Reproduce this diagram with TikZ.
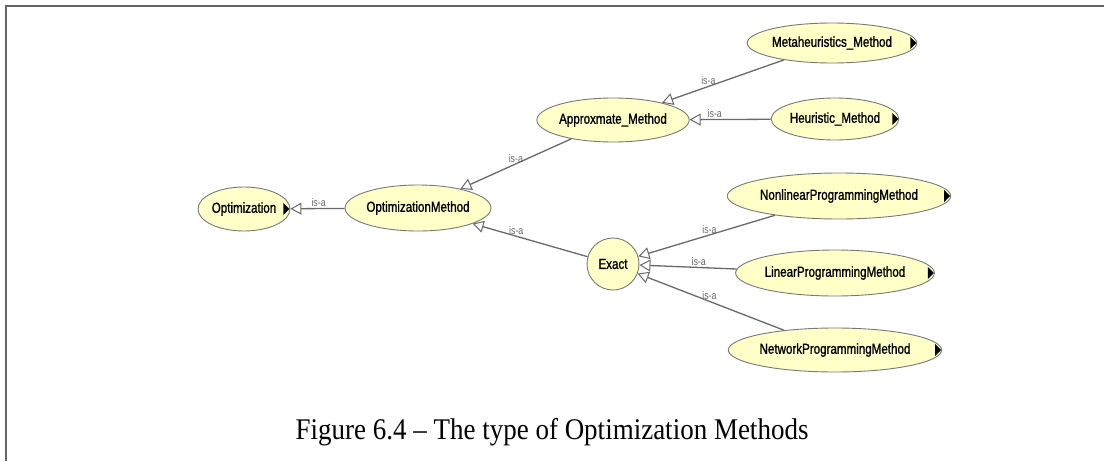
\documentclass[tikz,border=0pt]{standalone}
\usepackage{fontspec}
\newfontfamily\nodefont[FakeStretch=0.8,FakeBold=1.2]{Liberation Sans}
\newfontfamily\labelfont[FakeStretch=0.8]{Liberation Sans}
\newfontfamily\capfont[FakeStretch=0.9]{Liberation Serif}
\usetikzlibrary{arrows.meta,shapes.geometric}
\definecolor{nodefill}{RGB}{255,255,200}
\definecolor{edgegray}{RGB}{105,105,105}
\definecolor{bordergray}{RGB}{120,120,120}
\definecolor{framegray}{RGB}{100,100,100}
\begin{document}
\begin{tikzpicture}[x=1pt,y=-1pt,
  cls/.style={ellipse, draw=bordergray, fill=nodefill, line width=0.9pt, inner sep=0pt,
    font=\nodefont\fontsize{14.5}{16}\selectfont},
  isa/.style={draw=edgegray, line width=1.3pt,
    -{Triangle[open,length=11pt,width=12pt,fill=white,line width=1pt]}},
  lbl/.style={font=\labelfont\fontsize{11}{12}\selectfont, text=edgegray, inner sep=1pt, anchor=south},
  expander/.style={fill=black}
]
\useasboundingbox (0,0) rectangle (1104,461);
\draw[framegray, line width=2pt] (5.5,461) -- (5.5,5.5) -- (1104,5.5);

\node[cls, minimum width=92pt, minimum height=44pt] (opt) at (244,209) {Optimization};
\node[cls, minimum width=133pt, minimum height=46pt] (om) at (418,208) {OptimizationMethod};
\node[cls, minimum width=132pt, minimum height=44pt] (apx) at (613,120) {Approxmate\_Method};
\node[cls, minimum width=139pt, minimum height=40pt] (meta) at (832,43) {Metaheuristics\_Method};
\node[cls, minimum width=114pt, minimum height=42pt] (heur) at (835,119) {Heuristic\_Method};
\node[cls, circle, minimum size=52pt] (exact) at (613,264) {Exact};
\node[cls, minimum width=178pt, minimum height=46pt] (nlp) at (839,196) {NonlinearProgrammingMethod};
\node[cls, minimum width=166pt, minimum height=46pt] (lp) at (835,273) {LinearProgrammingMethod};
\node[cls, minimum width=174pt, minimum height=44pt] (np) at (835,350) {NetworkProgrammingMethod};

\foreach \n in {opt,meta,heur,nlp,lp,np}{
  \fill[expander] (\n.east) ++(-7,-6) -- ++(0,12) -- ++(6,-6) -- cycle;
}

\draw[isa] (om) -- node[lbl,pos=0.48]{is-a} (opt);
\draw[isa] (apx) -- node[lbl,pos=0.5]{is-a} (om);
\draw[isa] (exact) -- node[lbl,pos=0.62]{is-a} (om);
\draw[isa] (meta) -- node[lbl,pos=0.62]{is-a} (apx);
\draw[isa] (heur) -- node[lbl,pos=0.69]{is-a} (apx);
\draw[isa] (nlp) -- node[lbl,pos=0.48]{is-a} (exact);
\draw[isa] (lp) -- node[lbl,pos=0.39]{is-a} (exact);
\draw[isa] (np) -- node[lbl,pos=0.51]{is-a} (exact);

\node[font=\capfont\fontsize{30}{34}\selectfont, inner sep=0pt] (cap) at (552,432) {Figure 6.4 – The type of Optimization Methods};
\end{tikzpicture}
\end{document}
